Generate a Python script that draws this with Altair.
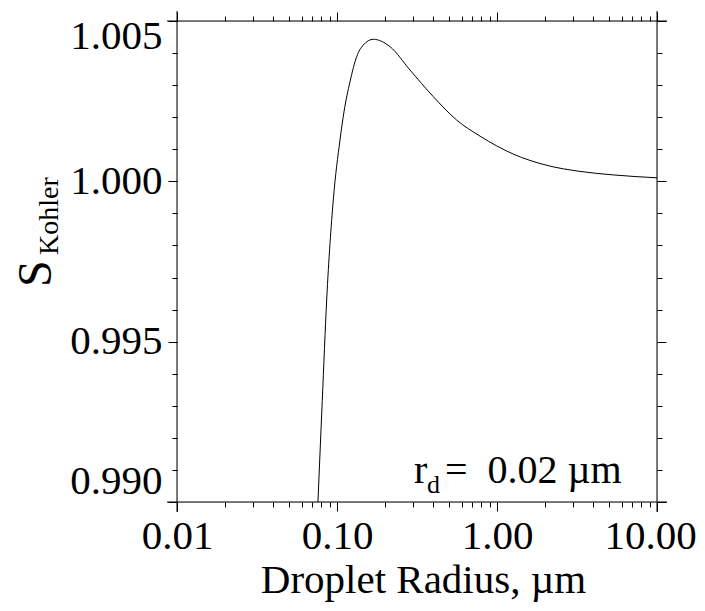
import altair as alt
import pandas as pd

# Curve
radius = [0.076, 0.0809, 0.0862, 0.0948, 0.1044, 0.1106, 0.1206, 0.1328, 0.146, 0.1686,
          0.2144, 0.286, 0.400, 0.560, 0.783, 1.264, 2.045, 3.30, 5.33, 10.0]
s_kohler = [0.9900, 0.99317, 0.99630, 0.99942, 1.00129, 1.00217, 1.00311, 1.00389, 1.00425, 1.00443,
            1.00420, 1.00347, 1.00264, 1.00191, 1.00141, 1.00085, 1.00050, 1.00031, 1.00020, 1.00011]

x_major = [0.01, 0.1, 1.0, 10.0]
x_minor = [0.02, 0.03, 0.04, 0.05, 0.06, 0.07, 0.08, 0.09,
           0.2, 0.3, 0.4, 0.5, 0.6, 0.7, 0.8, 0.9,
           2, 3, 4, 5, 6, 7, 8, 9]
y_major = [0.990, 0.995, 1.000, 1.005]
y_minor = [0.991, 0.992, 0.993, 0.994, 0.996, 0.997, 0.998, 0.999,
           1.001, 1.002, 1.003, 1.004]

x_title = "Droplet Radius, µm"
y_title_main = "S"
y_title_sub = "Kohler"
note_main = "r"
note_sub = "d"
note_rest = "=\u00a0 0.02 µm"

W, H = 480, 481
FONT = "Liberation Serif, Times New Roman, serif"
FS = 41

df = pd.DataFrame({"r": radius, "S": s_kohler})
one = pd.DataFrame({"k": [0]})

xs = alt.Scale(type="log", domain=[0.01, 10], nice=False)
ys = alt.Scale(domain=[0.990, 1.005], nice=False, zero=False)


def xaxis(orient, values, size, labels):
    kw = dict(orient=orient, values=values, tickSize=size, tickColor="black", tickWidth=1,
              domain=False, grid=False, labels=labels)
    if labels:
        kw.update(format=".2f", labelFont=FONT, labelFontSize=FS, labelColor="black",
                  labelPadding=5, labelFlush=False,
                  labelOffset={"condition": {"test": "datum.value >= 9.9", "value": -7},
                               "value": 0},
                  title=x_title, titleFont=FONT,
                  titleFontSize=FS, titleFontWeight="normal", titleColor="black",
                  titlePadding=4, titleX=W / 2 + 6)
    else:
        kw.update(title=None)
    return alt.Axis(**kw)


def yaxis(orient, values, size, labels):
    kw = dict(orient=orient, values=values, tickSize=size, tickColor="black", tickWidth=1,
              domain=False, grid=False, labels=labels, title=None)
    if labels:
        kw.update(format=".3f", labelFont=FONT, labelFontSize=FS, labelColor="black",
                  labelPadding=6, labelFlush=True,
                  labelOffset={"condition": {"test": "datum.value >= 1.0049", "value": -5},
                               "value": 0})
    return alt.Axis(**kw)


line = alt.Chart(df).mark_line(color="black", strokeWidth=1, interpolate="monotone").encode(
    x=alt.X("r:Q", scale=xs, axis=xaxis("bottom", x_major, 9, True)),
    y=alt.Y("S:Q", scale=ys, axis=yaxis("left", y_major, 9, True)),
)
minor_bl = alt.Chart(df).mark_point(opacity=0).encode(
    x=alt.X("r:Q", scale=xs, axis=xaxis("bottom", x_minor, 5, False)),
    y=alt.Y("S:Q", scale=ys, axis=yaxis("left", y_minor, 5, False)),
)
major_tr = alt.Chart(df).mark_point(opacity=0).encode(
    x=alt.X("r:Q", scale=xs, axis=xaxis("top", x_major, 9, False)),
    y=alt.Y("S:Q", scale=ys, axis=yaxis("right", y_major, 9, False)),
)
minor_tr = alt.Chart(df).mark_point(opacity=0).encode(
    x=alt.X("r:Q", scale=xs, axis=xaxis("top", x_minor, 5, False)),
    y=alt.Y("S:Q", scale=ys, axis=yaxis("right", y_minor, 5, False)),
)

EXT = 10
frame_bottom = alt.Chart(one).mark_rule(color="black", strokeWidth=1).encode(
    x=alt.value(-EXT), x2=alt.value(W + EXT), y=alt.value(H))
frame_top = alt.Chart(one).mark_rule(color="black", strokeWidth=1).encode(
    x=alt.value(-EXT), x2=alt.value(W + EXT), y=alt.value(0))
frame_left = alt.Chart(one).mark_rule(color="black", strokeWidth=1).encode(
    y=alt.value(-EXT), y2=alt.value(H + EXT), x=alt.value(0))
frame_right = alt.Chart(one).mark_rule(color="black", strokeWidth=1).encode(
    y=alt.value(-EXT), y2=alt.value(H + EXT), x=alt.value(W))

ytitle_s = alt.Chart(one).mark_text(font=FONT, fontSize=48, angle=270, align="left",
                                    baseline="alphabetic", color="black").encode(
    x=alt.value(-126), y=alt.value(266), text=alt.value(y_title_main))
ytitle_k = alt.Chart(one).mark_text(font=FONT, fontSize=28, angle=270, align="left",
                                    baseline="alphabetic", color="black").encode(
    x=alt.value(-119), y=alt.value(234), text=alt.value(y_title_sub))

note_r = alt.Chart(one).mark_text(font=FONT, fontSize=40, align="left",
                                  baseline="alphabetic", color="black").encode(
    x=alt.value(237), y=alt.value(462), text=alt.value(note_main))
note_d = alt.Chart(one).mark_text(font=FONT, fontSize=26, align="left",
                                  baseline="alphabetic", color="black").encode(
    x=alt.value(250), y=alt.value(472), text=alt.value(note_sub))
note_eq = alt.Chart(one).mark_text(font=FONT, fontSize=40, align="left",
                                   baseline="alphabetic", color="black").encode(
    x=alt.value(268), y=alt.value(462), text=alt.value(note_rest))

chart = alt.layer(
    line, minor_bl, major_tr, minor_tr,
    frame_bottom, frame_top, frame_left, frame_right,
    ytitle_s, ytitle_k, note_r, note_d, note_eq,
).resolve_axis(x="independent", y="independent").properties(
    width=W, height=H,
    autosize=alt.AutoSizeParams(type="none"),
    padding={"left": 169, "top": 13, "right": 40, "bottom": 100},
).configure_view(stroke=None).configure(background="white")

chart.save("out.html", embed_options={"renderer": "svg", "actions": False})
